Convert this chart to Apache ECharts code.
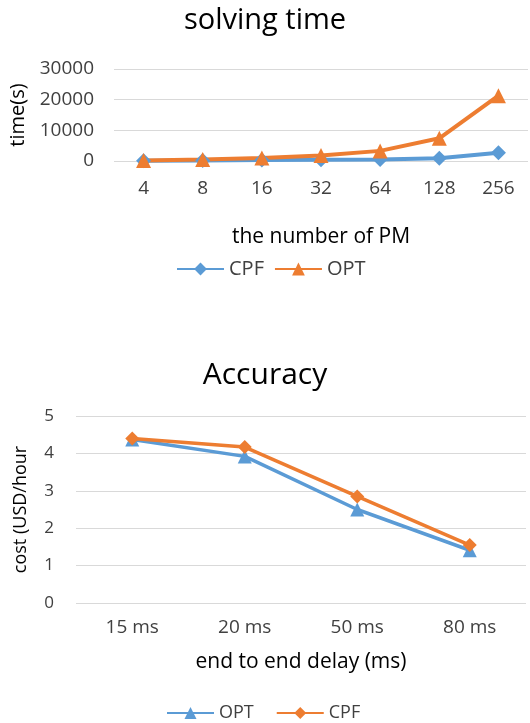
<!DOCTYPE html>
<html>
<head>
<meta charset="utf-8">
<script src="https://cdn.jsdelivr.net/npm/echarts@6/dist/echarts.min.js"></script>
<style>
  html, body { margin: 0; padding: 0; background: #fff; }
  #top { position: absolute; left: 0; top: 0; width: 530px; height: 350px; }
  #bottom { position: absolute; left: 0; top: 350px; width: 530px; height: 373px; }
</style>
</head>
<body>
<div id="top"></div>
<div id="bottom"></div>
<script>
// solving time chart
const pmCounts = ['4', '8', '16', '32', '64', '128', '256'];
const timeCPF = [100, 200, 300, 400, 500, 900, 2700];
const timeOPT = [200, 500, 1000, 1800, 3300, 7400, 21300];
const timeTicks = [0, 10000, 20000, 30000];

// accuracy chart
const delays = ['15 ms', '20 ms', '50 ms', '80 ms'];
const costOPT = [4.37, 3.92, 2.5, 1.41];
const costCPF = [4.4, 4.17, 2.85, 1.55];

const BLUE = '#5B9BD5';
const ORANGE = '#ED7D31';
const FONT = '"Open Sans", sans-serif';
const TEXT = '#404040';

function lineSeries(name, data, color, symbol, size, width) {
  return {
    name: name,
    type: 'line',
    data: data,
    symbol: symbol,
    symbolSize: size,
    lineStyle: { color: color, width: width },
    itemStyle: { color: color },
    animation: false
  };
}

const topChart = echarts.init(document.getElementById('top'));
topChart.setOption({
  backgroundColor: '#fff',
  textStyle: { fontFamily: FONT },
  title: {
    text: 'solving time',
    left: 'center',
    top: 1,
    textStyle: { fontSize: 29, fontWeight: 'normal', color: '#000', fontFamily: FONT }
  },
  legend: {
    left: 176,
    top: 259,
    padding: 0,
    itemWidth: 47,
    itemHeight: 16,
    itemGap: 10,
    textStyle: { fontSize: 20, color: TEXT, fontFamily: FONT },
    data: ['CPF', 'OPT']
  },
  grid: { left: 114, right: 2, top: 69, bottom: 189 },
  xAxis: {
    type: 'category',
    data: pmCounts,
    boundaryGap: true,
    name: 'the number of PM',
    nameLocation: 'middle',
    nameGap: 66,
    nameTextStyle: { fontSize: 21, color: '#000', fontFamily: FONT },
    axisLine: { show: false },
    axisTick: { show: false },
    axisLabel: { fontSize: 19, color: TEXT, margin: 18, fontFamily: FONT }
  },
  yAxis: {
    type: 'value',
    min: timeTicks[0],
    max: timeTicks[timeTicks.length - 1],
    interval: 10000,
    name: 'time(s)',
    nameLocation: 'middle',
    nameGap: 80,
    nameTextStyle: { fontSize: 20, color: '#000', fontFamily: FONT },
    axisLabel: { fontSize: 19, color: TEXT, margin: 20, fontFamily: FONT, formatter: v => String(v) },
    splitLine: { lineStyle: { color: '#D9D9D9', width: 1 } }
  },
  series: [
    lineSeries('CPF', timeCPF, BLUE, 'diamond', 15, 4),
    lineSeries('OPT', timeOPT, ORANGE, 'triangle', 15, 4)
  ]
});

const bottomChart = echarts.init(document.getElementById('bottom'));
bottomChart.setOption({
  backgroundColor: '#fff',
  textStyle: { fontFamily: FONT },
  title: {
    text: 'Accuracy',
    left: 'center',
    top: 5,
    textStyle: { fontSize: 30, fontWeight: 'normal', color: '#000', fontFamily: FONT }
  },
  legend: {
    left: 166,
    top: 354,
    padding: 0,
    itemWidth: 47,
    itemHeight: 15,
    itemGap: 22,
    textStyle: { fontSize: 18, color: TEXT, fontFamily: FONT },
    data: ['OPT', 'CPF']
  },
  grid: { left: 76, right: 4, top: 66, bottom: 120 },
  xAxis: {
    type: 'category',
    data: delays,
    boundaryGap: true,
    name: 'end to end delay (ms)',
    nameLocation: 'middle',
    nameGap: 49,
    nameTextStyle: { fontSize: 21, color: '#000', fontFamily: FONT },
    axisLine: { show: false },
    axisTick: { show: false },
    axisLabel: { fontSize: 19, color: TEXT, margin: 15, fontFamily: FONT }
  },
  yAxis: {
    type: 'value',
    min: 0,
    max: 5,
    interval: 1,
    name: 'cost (USD/hour',
    nameLocation: 'middle',
    nameGap: 46,
    nameTextStyle: { fontSize: 18, color: '#000', fontFamily: FONT },
    axisLabel: { fontSize: 17, color: TEXT, margin: 22, fontFamily: FONT },
    splitLine: { lineStyle: { color: '#D9D9D9', width: 1 } }
  },
  series: [
    lineSeries('OPT', costOPT, BLUE, 'triangle', 14, 3.5),
    lineSeries('CPF', costCPF, ORANGE, 'diamond', 14, 3.5)
  ]
});
</script>
</body>
</html>
